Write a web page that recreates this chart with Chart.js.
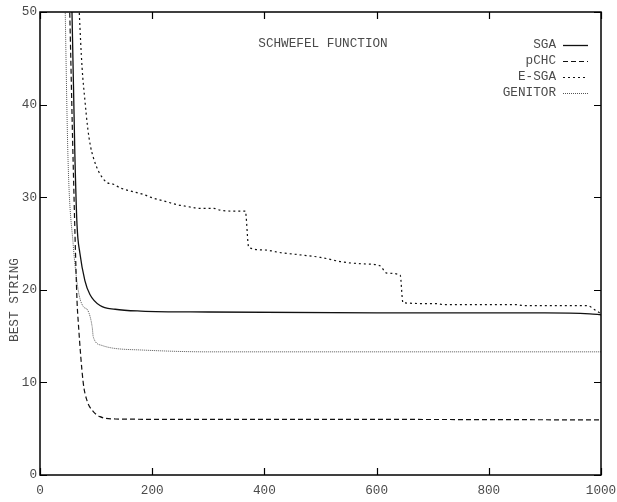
<!DOCTYPE html>
<html><head><meta charset="utf-8">
<script src="https://cdn.jsdelivr.net/npm/chart.js@4/dist/chart.umd.min.js"></script>
<style>html,body{margin:0;padding:0;background:#fff}#wrap{width:617px;height:502px}</style>
</head><body><div id="wrap"><canvas id="c" width="617" height="502"></canvas></div>
<script>
const chartTitle = 'SCHWEFEL FUNCTION';
const yAxisLabel = 'BEST STRING';
const xAxisTicks = [0, 200, 400, 600, 800, 1000];
const yAxisTicks = [0, 10, 20, 30, 40, 50];
const seriesNames = ['SGA', 'pCHC', 'E-SGA', 'GENITOR'];

const sgaX = [50, 57, 62, 66, 71, 80, 89, 107, 134, 180, 300, 600, 900, 980, 1000];
const sgaY = [62, 50, 35, 27, 24, 21, 19.5, 18.3, 17.9, 17.7, 17.6, 17.5, 17.5, 17.4, 17.3];

const pchcX = [48, 53, 59, 66, 68, 77, 84, 93, 107, 134, 300, 600, 1000];
const pchcY = [62, 50, 34, 18.8, 16.7, 10, 8, 7, 6.3, 6.05, 6.0, 6.0, 5.95];

const esgaX = [65, 70, 75, 80, 85, 90, 95, 100, 107, 119, 131, 143, 166, 184, 202, 226, 244, 262, 285, 309, 321, 344, 366, 372, 400, 430, 460, 500, 540, 576, 606, 618, 642, 647, 708, 719, 850, 861, 975, 990, 1000];
const esgaY = [58, 50, 44, 40.5, 37.5, 35.5, 34.3, 33.4, 32.5, 31.6, 31.4, 31.0, 30.6, 30.3, 29.9, 29.5, 29.2, 29.0, 28.8, 28.8, 28.6, 28.5, 28.5, 24.6, 24.3, 24.0, 23.8, 23.5, 23.0, 22.8, 22.6, 21.8, 21.6, 18.6, 18.5, 18.4, 18.4, 18.3, 18.3, 17.8, 17.4];

const genX = [42, 45, 50, 59, 68, 77, 85, 93, 95, 110, 130, 180, 300, 1000];
const genY = [62, 50, 34, 25, 20, 18.2, 17.8, 16, 14.9, 14.0, 13.7, 13.5, 13.3, 13.3];

const pts = (xs, ys) => xs.map((x, i) => ({x: x, y: ys[i]}));
const MONO = '"Liberation Mono", "DejaVu Sans Mono", monospace';
const TXT = '#4a4a4a';

const datasets = [
  {label: seriesNames[0], data: pts(sgaX, sgaY), borderColor: '#111', borderWidth: 1.3, borderDash: []},
  {label: seriesNames[1], data: pts(pchcX, pchcY), borderColor: '#111', borderWidth: 1.2, borderDash: [5, 3]},
  {label: seriesNames[2], data: pts(esgaX, esgaY), borderColor: '#111', borderWidth: 1.2, borderDash: [2, 3]},
  {label: seriesNames[3], data: pts(genX, genY), borderColor: '#555', borderWidth: 1, borderDash: [1, 1]}
].map(d => Object.assign(d, {pointRadius: 0, fill: false, cubicInterpolationMode: 'monotone'}));

const framePlugin = {
  id: 'frame',
  afterDatasetsDraw(chart) {
    const {ctx, chartArea: a, scales: {x, y}} = chart;
    ctx.save();
    ctx.strokeStyle = '#000';
    ctx.lineWidth = 1.5;
    ctx.setLineDash([]);
    ctx.strokeRect(a.left, a.top, a.right - a.left, a.bottom - a.top);
    ctx.lineWidth = 1.2;
    const L = 7;
    ctx.beginPath();
    xAxisTicks.forEach(v => {
      const p = Math.round(x.getPixelForValue(v)) + 0.5;
      ctx.moveTo(p, a.bottom); ctx.lineTo(p, a.bottom - L);
      ctx.moveTo(p, a.top); ctx.lineTo(p, a.top + L);
    });
    yAxisTicks.forEach(v => {
      const p = Math.round(y.getPixelForValue(v)) + 0.5;
      ctx.moveTo(a.left, p); ctx.lineTo(a.left + L, p);
      ctx.moveTo(a.right, p); ctx.lineTo(a.right - L, p);
    });
    ctx.stroke();

    ctx.fillStyle = TXT;
    ctx.font = '12.7px ' + MONO;
    ctx.textBaseline = 'middle';
    ctx.textAlign = 'center';
    ctx.fillText(chartTitle, 323, 44);

    // legend
    chart.data.datasets.forEach((d, i) => {
      const yy = 45 + i * 16;
      ctx.fillStyle = TXT;
      ctx.textAlign = 'right';
      ctx.fillText(d.label, 556, yy);
      ctx.strokeStyle = d.borderColor;
      ctx.lineWidth = d.borderWidth;
      ctx.setLineDash(d.borderDash);
      ctx.beginPath();
      ctx.moveTo(563, yy + 0.5); ctx.lineTo(588, yy + 0.5);
      ctx.stroke();
    });
    ctx.setLineDash([]);

    // y axis title
    ctx.translate(15, 300);
    ctx.rotate(-Math.PI / 2);
    ctx.fillStyle = TXT;
    ctx.textAlign = 'center';
    ctx.fillText(yAxisLabel, 0, 0);
    ctx.restore();
  }
};

new Chart(document.getElementById('c'), {
  type: 'line',
  data: {datasets: datasets},
  options: {
    responsive: false,
    animation: false,
    devicePixelRatio: 1,
    layout: {padding: {top: 12, right: 16, left: 0, bottom: 0}},
    plugins: {legend: {display: false}, tooltip: {enabled: false}},
    scales: {
      x: {
        type: 'linear', min: 0, max: 1000,
        afterBuildTicks: s => { s.ticks = xAxisTicks.map(v => ({value: v})); },
        afterFit: s => { s.height = 27; s.paddingLeft = 0; s.paddingRight = 0; },
        grid: {display: false, drawTicks: false},
        border: {display: false},
        ticks: {padding: 8, color: TXT, font: {family: MONO, size: 12.7}, maxRotation: 0, callback: v => String(v)}
      },
      y: {
        type: 'linear', min: 0, max: 50,
        afterBuildTicks: s => { s.ticks = yAxisTicks.map(v => ({value: v})); },
        afterFit: s => { s.width = 40; s.paddingTop = 0; s.paddingBottom = 0; },
        grid: {display: false, drawTicks: false},
        border: {display: false},
        ticks: {padding: 3, color: TXT, font: {family: MONO, size: 12.7}, callback: v => String(v)}
      }
    }
  },
  plugins: [framePlugin]
});
</script>
</body></html>
